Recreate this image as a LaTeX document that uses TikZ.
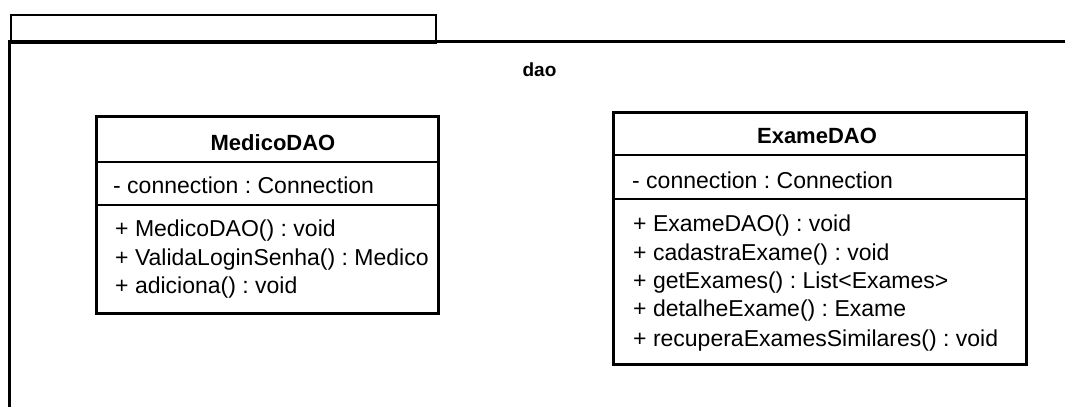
\documentclass[tikz,border=0pt]{standalone}
\usepackage{fontspec}
\setmainfont{Liberation Sans}
\frenchspacing
\begin{document}
\begin{tikzpicture}[x=1pt,y=-1pt,
  pkgline/.style={line width=2.8pt},
  classbox/.style={draw,line width=2.8pt,inner sep=0pt,anchor=north west},
  sepline/.style={line width=1.1pt},
  classname/.style={font=\fontsize{22}{26}\selectfont\bfseries,anchor=base,inner sep=0pt},
  member/.style={font=\fontsize{23}{27}\selectfont,anchor=base west,inner sep=0pt}]
\useasboundingbox (0,0) rectangle (1065,407);

% package frame: tab and open body
\node[draw,pkgline,inner sep=0pt,anchor=north west,minimum width=425pt,minimum height=28pt] (tab) at (9.5,13.5) {};
\coordinate (bodyleft) at (9.5,41.5);
\coordinate (bodyright) at (1065,41.5);
\coordinate (bodybottom) at (9.5,407);
\draw[pkgline] (bodyright) -- (bodyleft) -- (bodybottom);
\node[font=\fontsize{19}{23}\selectfont\bfseries,anchor=base,inner sep=0pt] (pkgname) at (539.5,76) {dao};

% class MedicoDAO
\node[classbox,minimum width=342pt,minimum height=197pt] (medico) at (95,115) {};
\draw[sepline] (95,162) -- (437,162);
\draw[sepline] (95,205) -- (437,205);
\node[classname] (medicoName) at (273,150) {MedicoDAO};
\node[member] (medicoA1) at (113,193) {- connection : Connection};
\node[member] (medicoM1) at (115,236) {+ MedicoDAO() : void};
\node[member] (medicoM2) at (115,265) {+ ValidaLoginSenha() : Medico};
\node[member] (medicoM3) at (115,293) {+ adiciona() : void};

% class ExameDAO
\node[classbox,minimum width=413pt,minimum height=252pt] (exame) at (612,111) {};
\draw[sepline] (612,155) -- (1025,155);
\draw[sepline] (612,199) -- (1025,199);
\node[classname] (exameName) at (817,143) {ExameDAO};
\node[member] (exameA1) at (632,188) {- connection : Connection};
\node[member] (exameM1) at (633,231) {+ ExameDAO() : void};
\node[member] (exameM2) at (633,260) {+ cadastraExame() : void};
\node[member] (exameM3) at (633,288) {+ getExames() : List<Exames>};
\node[member] (exameM4) at (633,316) {+ detalheExame() : Exame};
\node[member] (exameM5) at (633,346) {+ recuperaExamesSimilares() : void};
\end{tikzpicture}
\end{document}
